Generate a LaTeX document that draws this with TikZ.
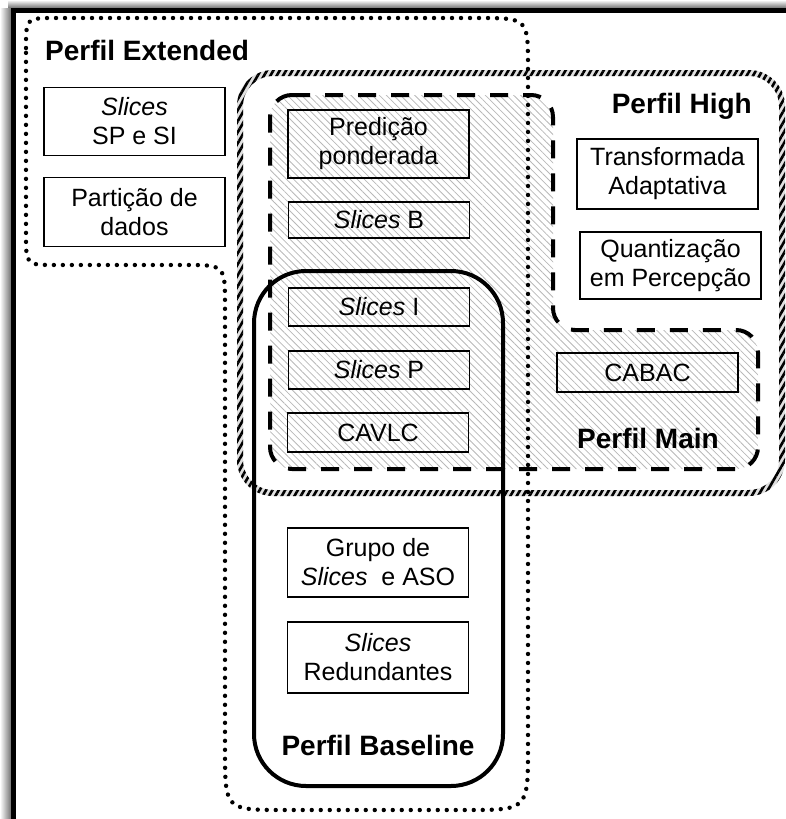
\documentclass[tikz,border=0pt]{standalone}
\usepackage{fontspec}
\setmainfont{Liberation Sans}
\usetikzlibrary{patterns.meta}
\begin{document}
\begin{tikzpicture}[x=1pt,y=-1pt,
  box/.style={draw, line width=1.4pt, inner sep=0pt, align=center, minimum width=181pt, font=\fontsize{25}{29}\selectfont},
  title/.style={font=\fontsize{28}{32}\selectfont\bfseries, inner sep=0pt},
  mainhatch/.style={pattern={Lines[angle=-45,distance=5pt,line width=0.8pt]}, pattern color=black!28},
  highring/.style={pattern={Lines[angle=60,distance=5.5pt,line width=2.6pt]}, pattern color=black, even odd rule},
  dotline/.style={line width=4.4pt, line cap=round, dash pattern=on 0pt off 9pt},
  dashline/.style={line width=4pt, dash pattern=on 18pt off 15pt},
  solidline/.style={line width=4pt}]
\useasboundingbox (0,0) rectangle (786,819);
% frame with shadow
\fill[top color=white, bottom color=black!55] (8,0) rectangle (786,8);
\fill[left color=white, right color=black!55] (0,8) rectangle (11,819);
\draw[line width=5pt] (13,819) -- (13,10.5) -- (786,10.5);
% Perfil Main hatched area
\fill[mainhatch, rounded corners=22pt] (270,95) -- (553,95) -- (553,330) -- (758,330) -- (758,469) -- (270,469) -- cycle;
% Perfil High hatched ring
\fill[black!12, even odd rule] [rounded corners=36pt] (237,70) rectangle (785,496) [rounded corners=30pt] (243,76) rectangle (779,490);
\fill[highring] [rounded corners=36pt] (237,70) rectangle (785,496) [rounded corners=30pt] (243,76) rectangle (779,490);
% Perfil Extended dotted outline
\draw[dotline] (26,48) .. controls (26,18) .. (56,18) -- (478,18) .. controls (528,18) .. (528,68) -- (528,748) .. controls (528,810) .. (466,810) -- (285,810) .. controls (225,810) .. (225,750) -- (225,305) .. controls (225,265) .. (185,265) -- (56,265) .. controls (26,265) .. (26,235) -- cycle;
% Perfil Baseline solid outline
\draw[solidline, rounded corners=52pt] (254,271) rectangle (503,786);
% Perfil Main dashed outline
\draw[dashline, rounded corners=22pt] (270,95) -- (553,95) -- (553,330) -- (758,330) -- (758,469) -- (270,469) -- cycle;
% boxes
\node[box, minimum height=68pt] (sp) at (134.5,121.5) {\textit{Slices}\\SP e SI};
\node[box, minimum height=69pt] (part) at (134.5,212) {Partição de\\dados};
\node[box, minimum height=70pt] (transf) at (667.5,174) {Transformada\\Adaptativa};
\node[box, minimum height=67pt] (quant) at (670.5,265.5) {Quantização\\em Percepção};
\node[box, minimum height=68pt] (pred) at (378.5,144) {Predição\\ponderada};
\node[box, minimum height=36pt] (sb) at (379,220) {\textit{Slices} B};
\node[box, minimum height=38pt] (si) at (379,307) {\textit{Slices} I};
\node[box, minimum height=38pt] (spp) at (379,370) {\textit{Slices} P};
\node[box, minimum height=39pt] (cavlc) at (378,432.5) {CAVLC};
\node[box, minimum height=39pt] (cabac) at (647.5,372.5) {CABAC};
\node[box, minimum height=69pt] (grupo) at (378,562.5) {Grupo de\\\textit{Slices}~ e ASO};
\node[box, minimum height=71pt] (red) at (378,657.5) {\textit{Slices}\\Redundantes};
% titles
\node[title, anchor=base west] (text) at (45,60) {Perfil Extended};
\node[title, anchor=base east] (thigh) at (752,113) {Perfil High};
\node[title] (tmain) at (648,438) {Perfil Main};
\node[title] (tbase) at (378,745) {Perfil Baseline};
\end{tikzpicture}
\end{document}
